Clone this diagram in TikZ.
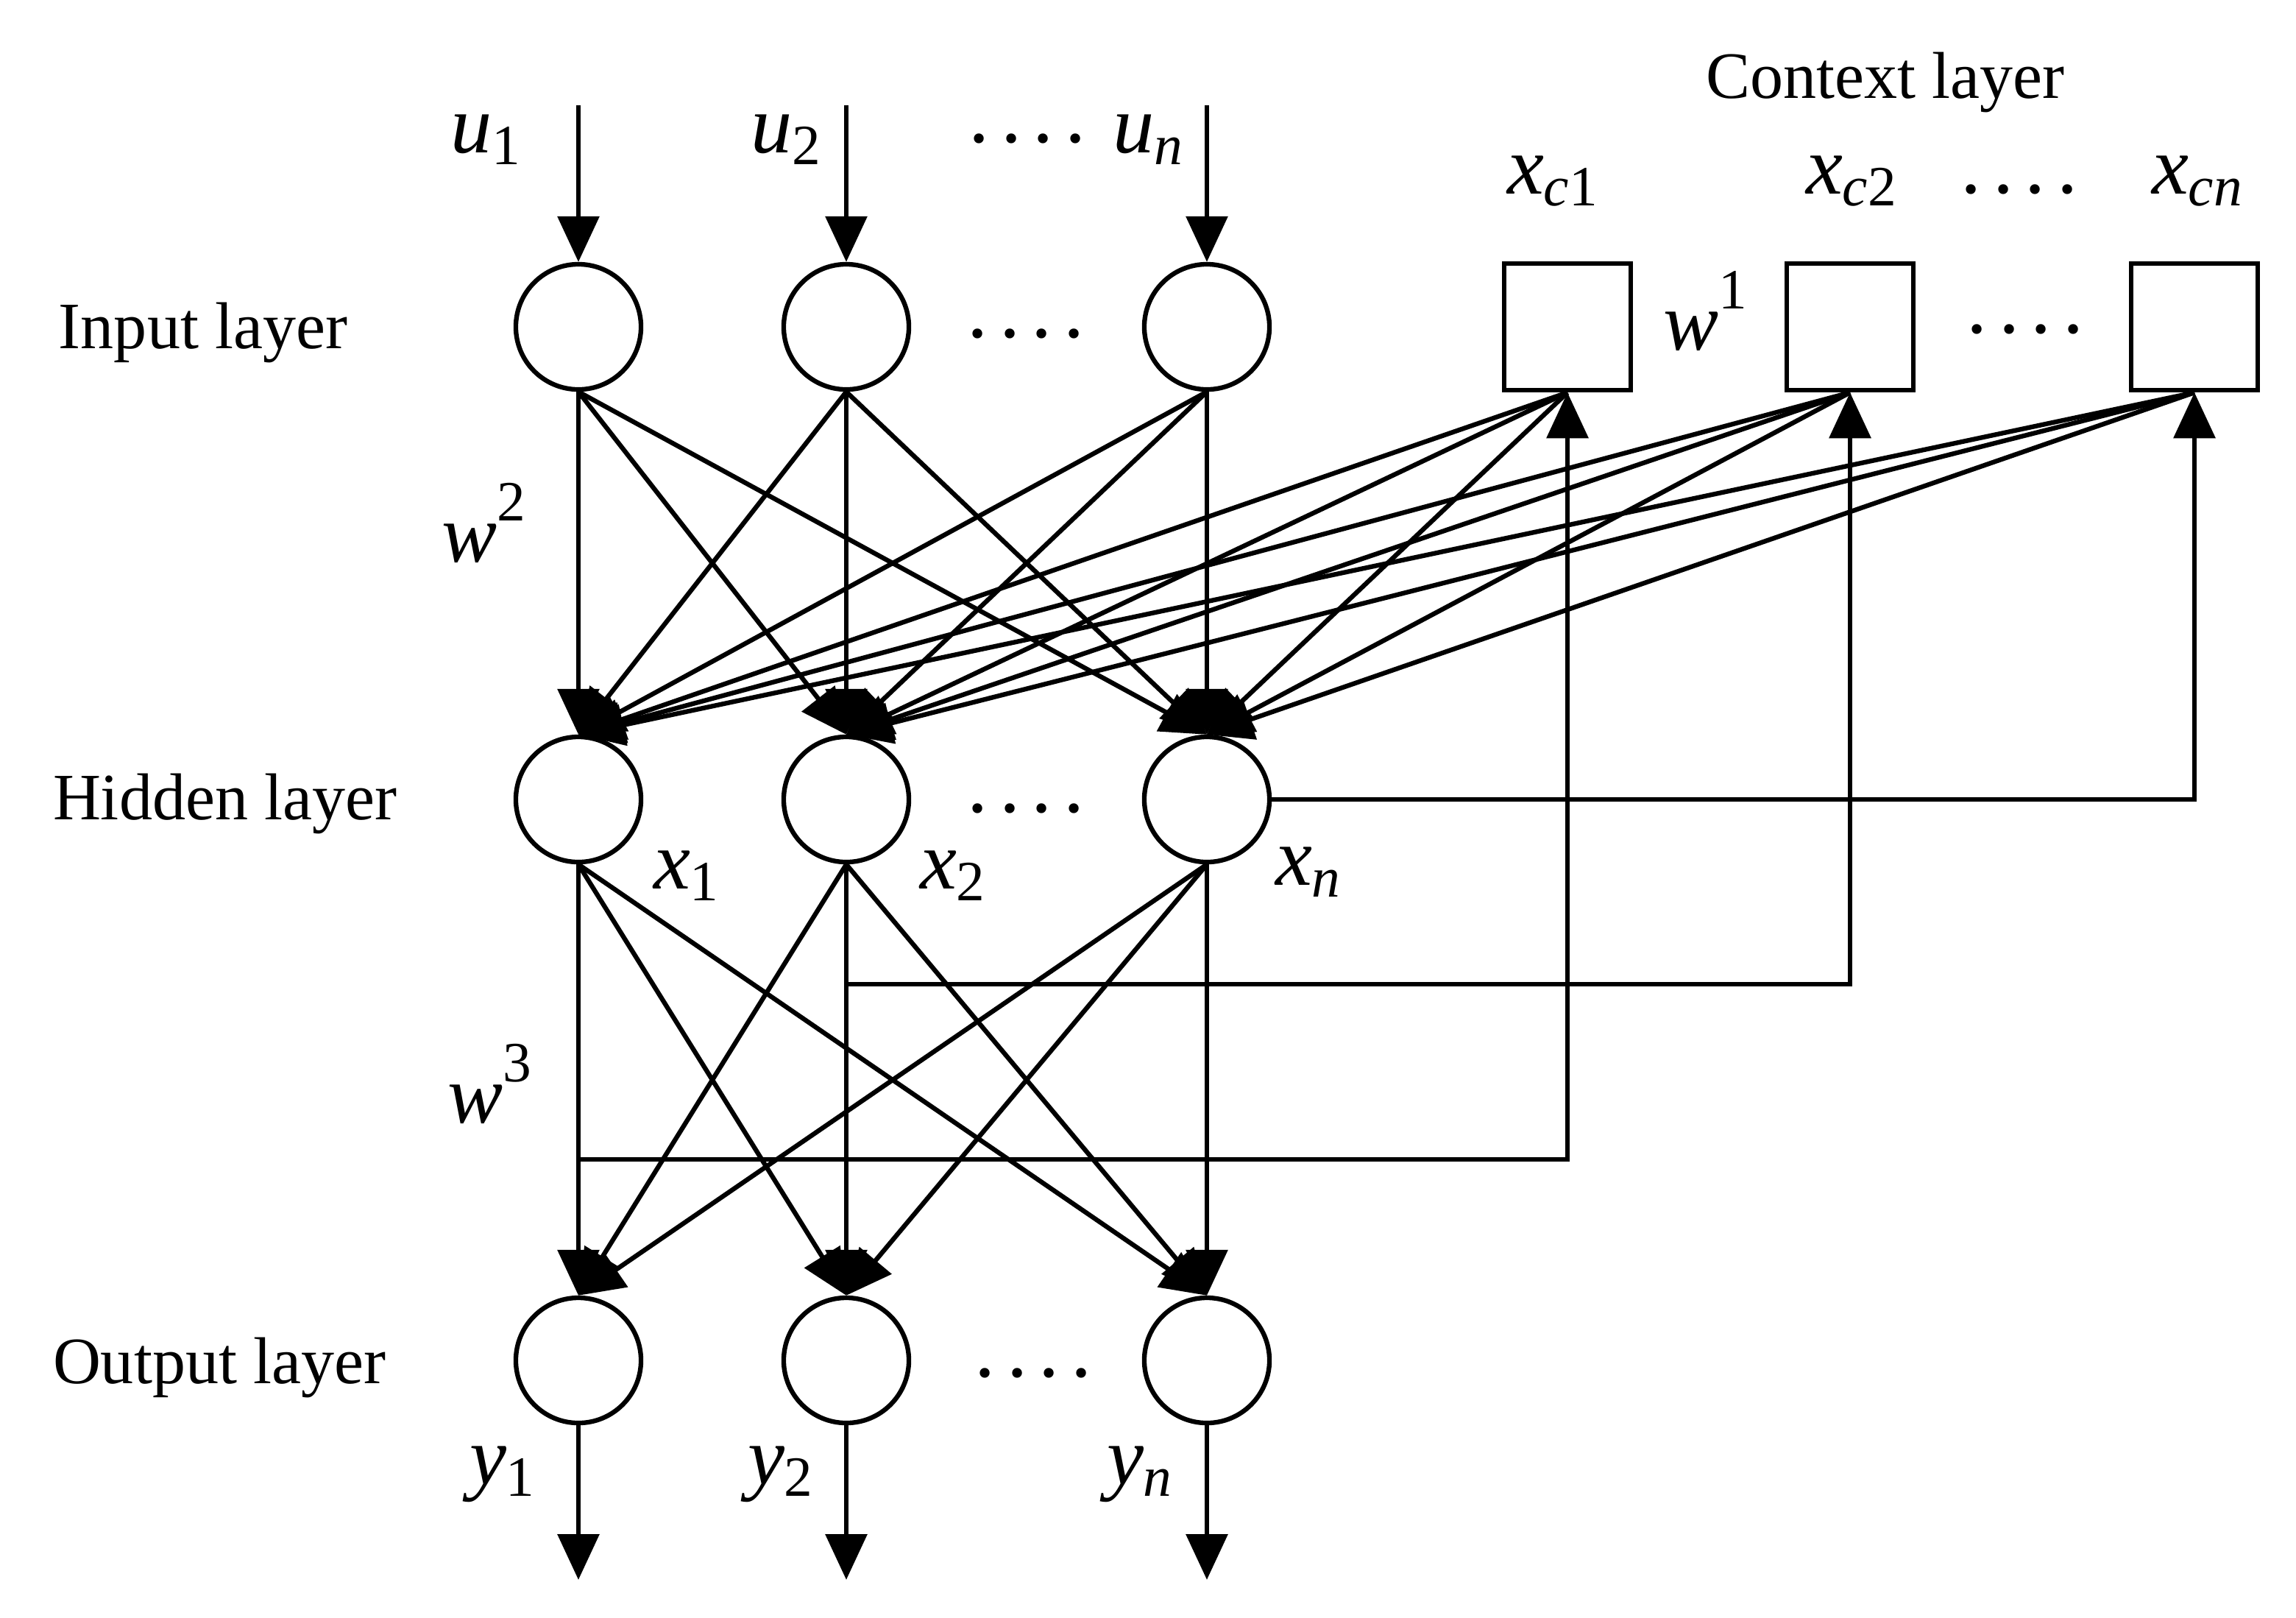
\documentclass[tikz,border=0pt]{standalone}
\usepackage{fontspec}
\setmainfont{Liberation Serif}
\usetikzlibrary{arrows.meta}
\newcommand\vlab[2]{{\fontsize{16}{19}\selectfont\itshape #1}\raisebox{-2.3pt}{\fontsize{11}{13}\selectfont #2}}
\newcommand\wlab[2]{{\fontsize{16}{19}\selectfont\itshape #1}\raisebox{7.9pt}{\fontsize{11}{13}\selectfont #2}}
\newcommand\dotrow{{\fontsize{16}{19}\selectfont .\kern2.24pt.\kern2.24pt.\kern2.24pt.}}
\begin{document}
\begin{tikzpicture}[x=0.01cm,y=-0.01cm,
  line width=0.9pt,
  neuron/.style={draw, circle, fill=white, minimum size=0.85cm, inner sep=0pt, line width=0.9pt},
  ctx/.style={draw, rectangle, fill=white, minimum size=0.86cm, inner sep=0pt, line width=0.9pt},
  arr/.style={-{Triangle[length=0.31cm,width=0.28cm]}},
  lbl/.style={inner sep=0pt, outer sep=0pt, anchor=base west},
  dotlbl/.style={inner sep=0pt, outer sep=0pt, anchor=base},
  layertxt/.style={inner sep=0pt, outer sep=0pt, anchor=base west, font=\fontsize{12.8}{15}\selectfont}]
\useasboundingbox (0,0) rectangle (1560,1098.5);

% neurons
\node[neuron] (i1) at (393,222) {};
\node[neuron] (i2) at (575,222) {};
\node[neuron] (i3) at (820,222) {};
\node[neuron] (h1) at (393,543) {};
\node[neuron] (h2) at (575,543) {};
\node[neuron] (h3) at (820,543) {};
\node[neuron] (o1) at (393,924) {};
\node[neuron] (o2) at (575,924) {};
\node[neuron] (o3) at (820,924) {};
\node[ctx] (c1) at (1065,222) {};
\node[ctx] (c2) at (1257,222) {};
\node[ctx] (c3) at (1491,222) {};

% free ends
\coordinate (ua1) at (393,71.5);
\coordinate (ua2) at (575,71.5);
\coordinate (ua3) at (820,71.5);
\coordinate (ya1) at (393,1073);
\coordinate (ya2) at (575,1073);
\coordinate (ya3) at (820,1073);
\coordinate (b2) at (575,668.5);
\coordinate (b1) at (393,787.5);

% inputs and outputs
\foreach \n in {1,2,3} {
  \draw[arr] (ua\n) -- (i\n.north);
  \draw[arr] (o\n.south) -- (ya\n);
}

% full connections
\foreach \a in {i1,i2,i3,c1,c2,c3} {
  \foreach \b in {h1,h2,h3} {
    \draw[arr] (\a.south) -- (\b.north);
  }
}
\foreach \a in {h1,h2,h3} {
  \foreach \b in {o1,o2,o3} {
    \draw[arr] (\a.south) -- (\b.north);
  }
}

% feedback to context layer
\draw[arr] (h3.east) -- (h3.east -| c3.south) -- (c3.south);
\draw[arr] (b2) -- (b2 -| c2.south) -- (c2.south);
\draw[arr] (b1) -- (b1 -| c1.south) -- (c1.south);

% layer labels
\node[layertxt] (tin) at (40,236.5) {Input layer};
\node[layertxt] (thid) at (36,556.5) {Hidden layer};
\node[layertxt] (tout) at (36,939.5) {Output layer};
\node[layertxt] (tctx) at (1159,66.5) {Context layer};

% variable labels
\node[lbl] (lu1) at (306,103.5) {\vlab{u}{1}};
\node[lbl] (lu2) at (510,103.5) {\vlab{u}{2}};
\node[lbl] (lun) at (756,103.5) {\vlab{u}{\itshape n}};
\node[lbl] (lxc1) at (1024,131.7) {\vlab{x}{\itshape c\upshape 1}};
\node[lbl] (lxc2) at (1227,131.7) {\vlab{x}{\itshape c\upshape 2}};
\node[lbl] (lxcn) at (1462,131.7) {\vlab{x}{\itshape cn}};
\node[lbl] (lw1) at (1130,237.5) {\wlab{w}{1}};
\node[lbl] (lw2) at (300,381.5) {\wlab{w}{2}};
\node[lbl] (lw3) at (304,762.5) {\wlab{w}{3}};
\node[lbl] (lx1) at (444,603.5) {\vlab{x}{1}};
\node[lbl] (lx2) at (625,603.5) {\vlab{x}{2}};
\node[lbl] (lxn) at (866.5,601) {\vlab{x}{\itshape n}};
\node[lbl] (ly1) at (319,1008) {\vlab{y}{1}};
\node[lbl] (ly2) at (508,1008) {\vlab{y}{2}};
\node[lbl] (lyn) at (752,1008) {\vlab{y}{\itshape n}};

% dots
\node[dotlbl] (d1) at (698,96.8) {\dotrow};
\node[dotlbl] (d2) at (697,229.3) {\dotrow};
\node[dotlbl] (d3) at (697,551.8) {\dotrow};
\node[dotlbl] (d4) at (702,935.3) {\dotrow};
\node[dotlbl] (d5) at (1372,131.3) {\dotrow};
\node[dotlbl] (d6) at (1376,226.3) {\dotrow};
\end{tikzpicture}
\end{document}
